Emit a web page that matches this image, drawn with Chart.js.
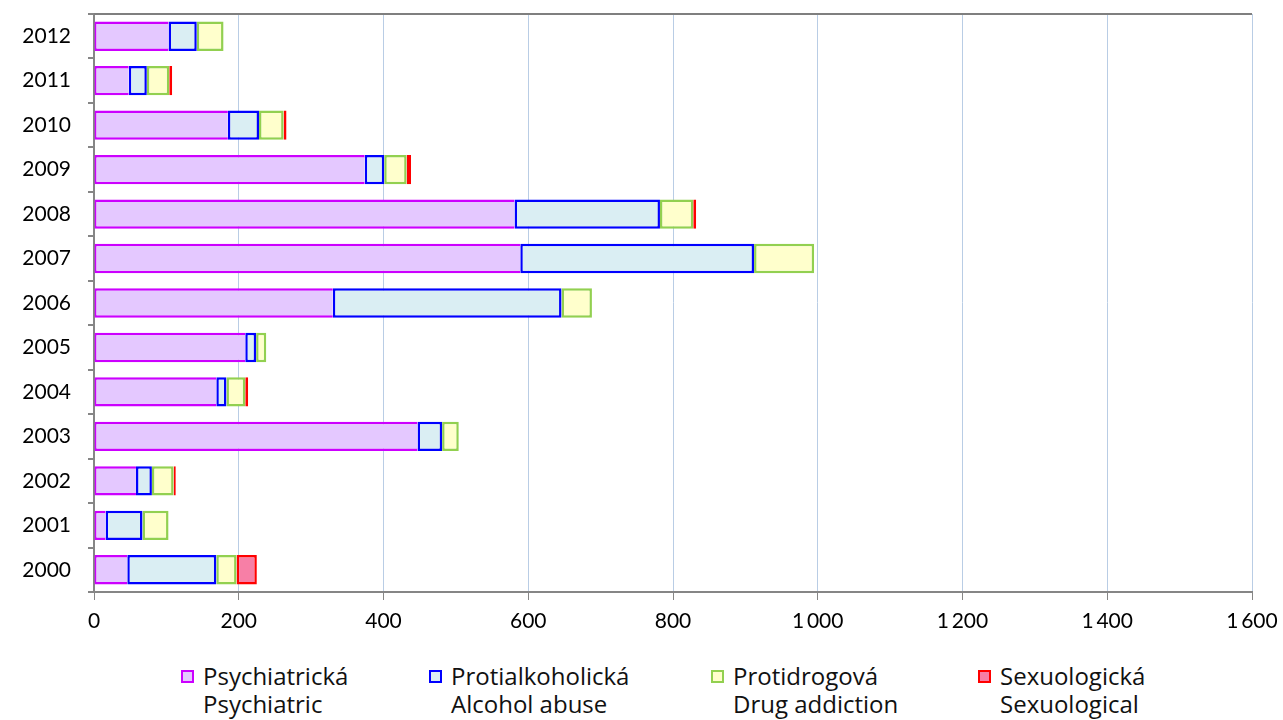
<!DOCTYPE html>
<html>
<head>
<meta charset="utf-8">
<script src="https://cdn.jsdelivr.net/npm/chart.js@4/dist/chart.umd.min.js"></script>
<style>
  html, body { margin: 0; padding: 0; background: #fff; }
  #wrap { position: relative; width: 1283px; height: 720px; }
  #cv { position: absolute; left: 0; top: 0; }
  .lg { position: absolute; top: 662px; font-family: "Open Sans", sans-serif; font-size: 24px; line-height: 28px; color: #111; letter-spacing: 0; }
  .lg .box { position: absolute; left: -22px; top: 8px; width: 9px; height: 9px; border: 2px solid; }
</style>
</head>
<body>
<div id="wrap">
  <canvas id="cv" width="1283" height="640"></canvas>
  <div id="legend"></div>
</div>
<script>
const years = ['2012','2011','2010','2009','2008','2007','2006','2005','2004','2003','2002','2001','2000'];
const psychiatric = [103, 48, 185, 374, 581, 589, 330, 209, 169, 447, 58, 16, 46];
const alcohol     = [39, 25, 43, 27, 201, 323, 316, 15, 14, 34, 22, 51, 123];
const drug        = [37, 31, 34, 31, 46, 83, 42, 14, 26, 23, 30, 36, 28];
const sexual      = [null, 4, 4, 6, 4, null, null, null, 4, null, 3, null, 28];
const xTicks = [0, 200, 400, 600, 800, 1000, 1200, 1400, 1600];
const xTickLabels = ['0', '200', '400', '600', '800', '1\u2009000', '1\u2009200', '1\u2009400', '1\u2009600'];
const seriesNames = [['Psychiatrická', 'Psychiatric'], ['Protialkoholická', 'Alcohol abuse'], ['Protidrogová', 'Drug addiction'], ['Sexuologická', 'Sexuological']];
const fills = ['#E4C8FF', '#DAEEF3', '#FFFFCC', '#F77FA6'];
const borders = ['#CC00FF', '#0000FF', '#92D050', '#FF0000'];
const legendX = [203, 451, 733, 1000];

const values = [psychiatric, alcohol, drug, sexual];
const datasets = values.map((v, i) => ({
  label: seriesNames[i][0],
  data: v,
  backgroundColor: fills[i],
  borderColor: borders[i],
  borderWidth: i === 0 ? {top: 2.5, bottom: 2.5, left: 2, right: 0} : 2.5,
  borderSkipped: false,
  barPercentage: 0.66,
  categoryPercentage: 1.0
}));

const framePlugin = {
  id: 'frame',
  afterDraw(chart) {
    const {ctx, chartArea} = chart;
    ctx.save();
    ctx.strokeStyle = '#7F7F7F';
    ctx.lineWidth = 2;
    ctx.beginPath();
    ctx.moveTo(chartArea.left, chartArea.top);
    ctx.lineTo(chartArea.right, chartArea.top);
    ctx.stroke();
    ctx.restore();
  }
};

new Chart(document.getElementById('cv'), {
  type: 'bar',
  data: { labels: years, datasets },
  options: {
    indexAxis: 'y',
    responsive: false,
    animation: false,
    layout: { padding: { top: 14, right: 31, left: 0, bottom: 0 } },
    plugins: { legend: { display: false }, tooltip: { enabled: false } },
    scales: {
      x: {
        stacked: true,
        min: 0, max: 1600,
        afterBuildTicks(scale) { scale.ticks = xTicks.map(v => ({ value: v })); },
        afterFit(scale) { scale.height = 48; scale.paddingTop = 0; scale.paddingBottom = 0; scale.paddingLeft = 0; scale.paddingRight = 0; },
        ticks: {
          callback(value) { const i = xTicks.indexOf(value); return i >= 0 ? xTickLabels[i] : ''; },
          font: { family: 'Lato', size: 21 },
          color: '#000',
          padding: 9,
          maxRotation: 0
        },
        grid: { color: '#B9CDE5', lineWidth: 1, tickColor: '#868686', tickLength: 8 },
        border: { color: '#868686', width: 2 }
      },
      y: {
        stacked: true,
        afterFit(scale) { scale.width = 94; scale.paddingTop = 0; scale.paddingBottom = 0; },
        ticks: {
          font: { family: 'Lato', size: 21 },
          color: '#000',
          padding: 17
        },
        grid: { display: true, drawOnChartArea: false, offset: true, color: '#868686', tickLength: 6, lineWidth: 2 },
        border: { color: '#868686', width: 2 }
      }
    }
  },
  plugins: [framePlugin]
});

const lg = document.getElementById('legend');
seriesNames.forEach((names, i) => {
  const d = document.createElement('div');
  d.className = 'lg';
  d.style.left = legendX[i] + 'px';
  const b = document.createElement('span');
  b.className = 'box';
  b.style.background = fills[i];
  b.style.borderColor = borders[i];
  d.appendChild(b);
  d.appendChild(document.createTextNode(names[0]));
  d.appendChild(document.createElement('br'));
  d.appendChild(document.createTextNode(names[1]));
  lg.appendChild(d);
});
</script>
</body>
</html>
